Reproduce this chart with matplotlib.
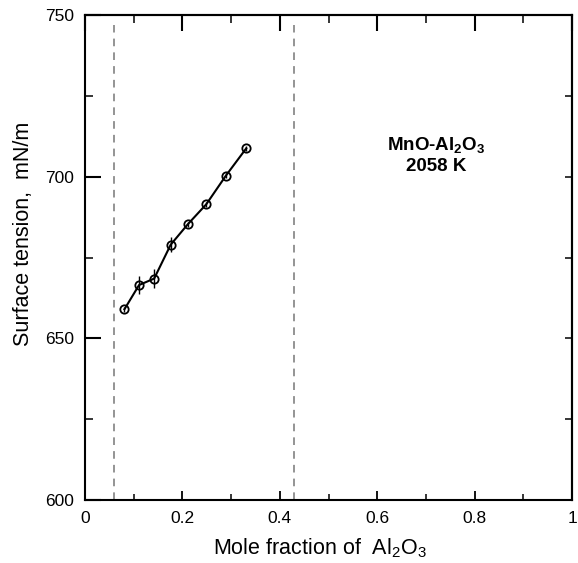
import matplotlib
matplotlib.use("Agg")
from matplotlib import pyplot as plt
from matplotlib.ticker import MultipleLocator, NullFormatter

plt.rcParams['font.family'] = ['Liberation Sans', 'DejaVu Sans']
plt.rcParams['mathtext.default'] = 'regular'

# data
x_al2o3 = [0.081, 0.111, 0.142, 0.176, 0.211, 0.249, 0.289, 0.331]
gamma = [659.0, 666.5, 668.5, 679.0, 685.3, 691.5, 700.3, 708.8]
gamma_err = [0.8, 2.9, 2.9, 2.4, 0.8, 0.8, 0.8, 0.8]
# composition limits of the liquid region
x_limits = [0.06, 0.43]

fig = plt.figure(figsize=(5.78, 5.63), dpi=100)
ax = fig.add_axes([0.147, 0.112, 0.843, 0.861])

for xl in x_limits:
    ax.plot([xl, xl], [600, 747], color='#777777', linestyle=(0, (5, 4)), linewidth=1.1)

ax.errorbar(x_al2o3, gamma, yerr=gamma_err, fmt='o-', color='black',
            mfc='none', mec='black', ms=6, mew=1.3, lw=1.5, elinewidth=1.0, capsize=0)

ax.text(0.72, 709.8, r'MnO-Al$_2$O$_3$', ha='center', va='center',
        fontsize=13.5, fontweight='bold')
ax.text(0.72, 703.3, '2058 K', ha='center', va='center',
        fontsize=13.5, fontweight='bold')

ax.set_xlim(0, 1)
ax.set_ylim(600, 750)
ax.set_xticks([0, 0.2, 0.4, 0.6, 0.8, 1.0])
ax.set_xticklabels(['0', '0.2', '0.4', '0.6', '0.8', '1'])
ax.xaxis.set_minor_locator(MultipleLocator(0.1))
ax.set_yticks([600, 650, 700, 750])
ax.yaxis.set_minor_locator(MultipleLocator(25))

ax.tick_params(axis='x', which='major', direction='in', length=6.5, width=1.3,
               labelsize=12.5, pad=8)
ax.tick_params(axis='x', which='minor', direction='in', length=4.5, width=1.1)
ax.tick_params(axis='y', which='major', direction='in', length=11.5, width=1.5,
               labelsize=12.5, pad=8)
ax.tick_params(axis='y', which='minor', direction='in', length=6, width=1.1)

for s in ax.spines.values():
    s.set_linewidth(1.5)

# top and right ticks
top = ax.secondary_xaxis('top')
top.set_xticks([0, 0.2, 0.4, 0.6, 0.8, 1.0])
top.xaxis.set_minor_locator(MultipleLocator(0.1))
top.xaxis.set_major_formatter(NullFormatter())
top.tick_params(which='major', direction='in', length=11.5, width=1.5)
top.tick_params(which='minor', direction='in', length=6, width=1.1)
top.spines['top'].set_linewidth(1.5)

right = ax.secondary_yaxis('right')
right.set_yticks([600, 625, 650, 675, 700, 725, 750])
right.yaxis.set_major_formatter(NullFormatter())
right.tick_params(which='major', direction='in', length=5, width=1.1)
right.spines['right'].set_linewidth(1.5)

ax.set_xlabel(r'Mole fraction of  Al$_2$O$_3$', fontsize=15.5)
ax.xaxis.set_label_coords(0.482, -0.076)
ax.set_ylabel('Surface tension,  mN/m', fontsize=15.5)
ax.yaxis.set_label_coords(-0.105, 0.548)

fig.savefig('out.png', dpi=100)
